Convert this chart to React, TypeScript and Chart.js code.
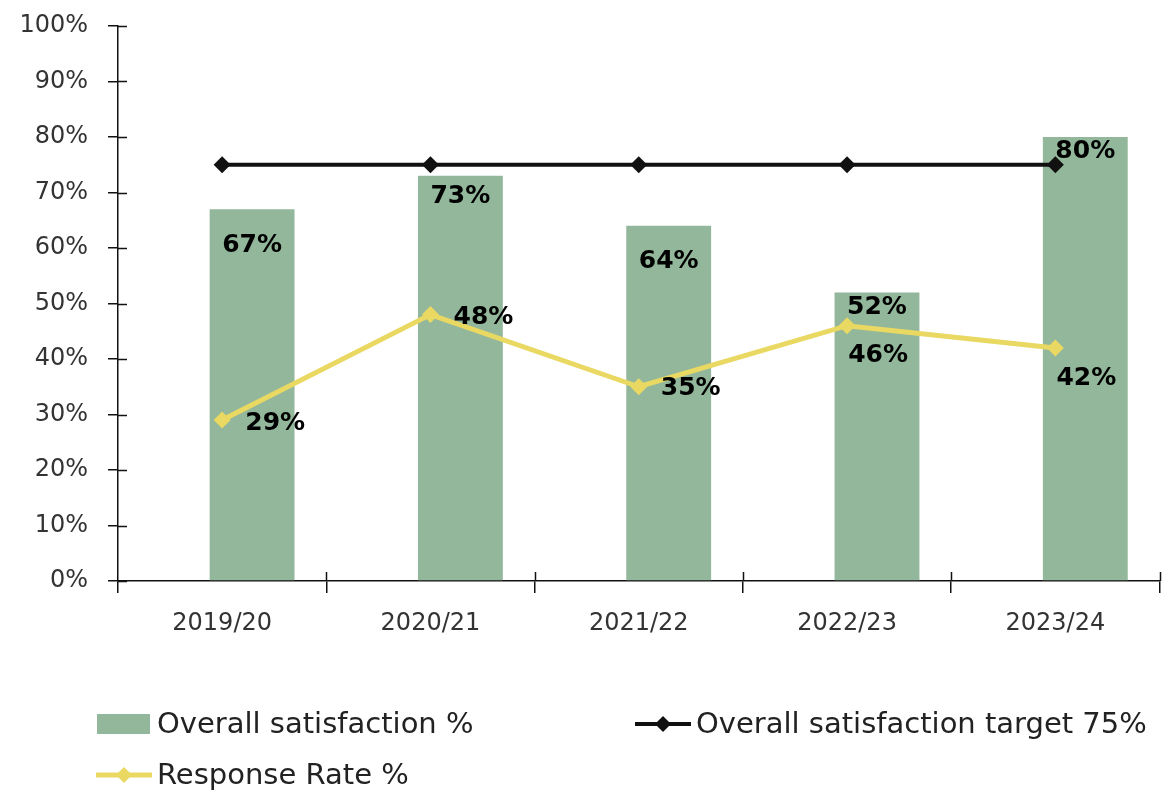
import React, { useEffect, useRef } from "react";
import { Chart, registerables } from "chart.js";

Chart.register(...registerables);

// ---- data ----
const categories = ["2019/20", "2020/21", "2021/22", "2022/23", "2023/24"];
const satisfaction = [67, 73, 64, 52, 80];
const target = [75, 75, 75, 75, 75];
const responseRate = [29, 48, 35, 46, 42];
const yTickValues = [0, 10, 20, 30, 40, 50, 60, 70, 80, 90, 100];

const seriesLabels = [
  "Overall satisfaction %",
  "Overall satisfaction target 75%",
  "Response Rate %",
];

// ---- styles ----
const GREEN = "#93B79B";
const YELLOW = "#E9D862";
const BLACK = "#111111";
const TEXT = "#333333";
const FONT = "'DejaVu Sans', sans-serif";

// label offsets relative to their marks (style only)
const barLabelDy = [36, 21, 36, 15, 14];
const rateLabelDx = [53, 53, 52, 31, 31];
const rateLabelDy = [3, 3, 2, 30, 31];

const labelPlugin = {
  id: "valueLabels",
  afterDatasetsDraw(chart: any) {
    const ctx = chart.ctx;
    ctx.save();
    ctx.font = `bold 25px ${FONT}`;
    ctx.fillStyle = "#000";
    ctx.textAlign = "center";
    ctx.textBaseline = "middle";
    chart.data.datasets.forEach((ds: any, di: number) => {
      if (!ds._labelKind) return;
      const meta = chart.getDatasetMeta(di);
      meta.data.forEach((el: any, i: number) => {
        const v = ds.data[i];
        if (v == null) return;
        if (ds._labelKind === "bar") {
          ctx.fillText(`${v}%`, el.x, el.y + barLabelDy[i]);
        } else {
          ctx.fillText(`${v}%`, el.x + rateLabelDx[i], el.y + rateLabelDy[i]);
        }
      });
    });
    ctx.restore();
  },
};

const innerTicksPlugin = {
  id: "innerTicks",
  afterDraw(chart: any) {
    const ctx = chart.ctx;
    const { left, bottom } = chart.chartArea;
    const ys = chart.scales.y;
    const xs = chart.scales.x;
    ctx.save();
    ctx.strokeStyle = BLACK;
    ctx.lineWidth = 1.5;
    ctx.beginPath();
    ys.ticks.forEach((t: any) => {
      const py = Math.round(ys.getPixelForValue(t.value)) + 0.5;
      ctx.moveTo(left, py);
      ctx.lineTo(left + 9, py);
    });
    const n = categories.length;
    for (let i = 1; i <= n; i++) {
      const px =
        i < n
          ? (xs.getPixelForValue(i - 1) + xs.getPixelForValue(i)) / 2
          : xs.getPixelForValue(n - 1) + (xs.getPixelForValue(1) - xs.getPixelForValue(0)) / 2;
      ctx.moveTo(Math.round(px) + 0.5, bottom);
      ctx.lineTo(Math.round(px) + 0.5, bottom - 9);
    }
    ctx.stroke();
    ctx.restore();
  },
};

const legendPlugin = {
  id: "customLegend",
  afterDraw(chart: any) {
    const ctx = chart.ctx;
    const base = chart.chartArea.bottom;
    const items = chart.data.datasets.filter((d: any) => d._legendSlot != null);
    const colX = [97, 636];
    const rowY = [base + 143, base + 194];
    ctx.save();
    ctx.font = `29px ${FONT}`;
    ctx.textAlign = "left";
    ctx.textBaseline = "middle";
    items.forEach((ds: any) => {
      const slot = ds._legendSlot;
      const x = colX[slot % 2];
      const y = rowY[Math.floor(slot / 2)];
      if (ds.type === "bar") {
        ctx.fillStyle = ds.backgroundColor;
        ctx.fillRect(x, y - 10, 53, 20);
      } else {
        ctx.strokeStyle = ds.borderColor;
        ctx.lineWidth = ds.borderWidth;
        ctx.beginPath();
        ctx.moveTo(x - 1, y);
        ctx.lineTo(x + 55, y);
        ctx.stroke();
        const cx = x + 27;
        const r = 8;
        ctx.fillStyle = ds.pointBackgroundColor;
        ctx.beginPath();
        ctx.moveTo(cx, y - r);
        ctx.lineTo(cx + r, y);
        ctx.lineTo(cx, y + r);
        ctx.lineTo(cx - r, y);
        ctx.closePath();
        ctx.fill();
      }
      ctx.fillStyle = "#222";
      ctx.fillText(ds.label, x + 60, y + 1);
    });
    ctx.restore();
  },
};

export default function App() {
  const ref = useRef<HTMLCanvasElement | null>(null);

  useEffect(() => {
    document.body.style.margin = "0";
    const canvas = ref.current;
    if (!canvas) return;
    const chart = new Chart(canvas, {
      type: "bar",
      data: {
        labels: categories,
        datasets: [
          {
            type: "line",
            label: seriesLabels[2],
            data: responseRate,
            borderColor: YELLOW,
            backgroundColor: YELLOW,
            borderWidth: 5,
            pointStyle: "rectRot",
            pointRadius: 8.5,
            pointBackgroundColor: YELLOW,
            pointBorderColor: YELLOW,
            pointBorderWidth: 0,
            tension: 0,
            order: 0,
            _labelKind: "line",
            _legendSlot: 2,
          } as any,
          {
            type: "line",
            label: seriesLabels[1],
            data: target,
            borderColor: BLACK,
            backgroundColor: BLACK,
            borderWidth: 4,
            pointStyle: "rectRot",
            pointRadius: 8.5,
            pointBackgroundColor: BLACK,
            pointBorderColor: BLACK,
            pointBorderWidth: 0,
            tension: 0,
            order: 1,
            _legendSlot: 1,
          } as any,
          {
            type: "bar",
            label: "",
            data: categories.map(() => null),
            backgroundColor: "rgba(0,0,0,0)",
            order: 2,
          } as any,
          {
            type: "bar",
            label: seriesLabels[0],
            data: satisfaction,
            backgroundColor: GREEN,
            borderWidth: 0,
            order: 3,
            _labelKind: "bar",
            _legendSlot: 0,
          } as any,
        ],
      },
      options: {
        animation: false,
        responsive: true,
        maintainAspectRatio: false,
        categoryPercentage: 0.575,
        barPercentage: 1.417,
        layout: { padding: { top: 26, right: 6, left: 0, bottom: 0 } },
        plugins: {
          legend: { display: false },
          tooltip: { enabled: false },
        },
        scales: {
          x: {
            type: "category",
            offset: true,
            grid: {
              offset: true,
              drawOnChartArea: false,
              tickLength: 12,
              color: BLACK,
              lineWidth: 1.5,
            },
            border: { color: BLACK, width: 1.5 },
            ticks: {
              color: TEXT,
              font: { family: FONT, size: 24 },
              padding: 16,
              maxRotation: 0,
            },
            afterFit: (s: any) => {
              s.height = 209;
              s.paddingLeft = 0;
              s.paddingRight = 0;
            },
          },
          y: {
            min: 0,
            max: 100,
            afterBuildTicks: (s: any) => {
              s.ticks = yTickValues.map((v) => ({ value: v }));
            },
            grid: {
              drawOnChartArea: false,
              tickLength: 10,
              color: BLACK,
              lineWidth: 1.5,
            },
            border: { color: BLACK, width: 1.5 },
            ticks: {
              color: TEXT,
              font: { family: FONT, size: 24 },
              padding: 20,
              callback: (v: any) => `${v}%`,
            },
            afterFit: (s: any) => {
              s.width = 118;
              s.paddingTop = 0;
              s.paddingBottom = 0;
            },
          },
        },
      } as any,
      plugins: [labelPlugin, innerTicksPlugin, legendPlugin],
    });
    return () => chart.destroy();
  }, []);

  return (
    <div style={{ width: 1168, height: 790, position: "relative", background: "#fff" }}>
      <canvas ref={ref} />
    </div>
  );
}
